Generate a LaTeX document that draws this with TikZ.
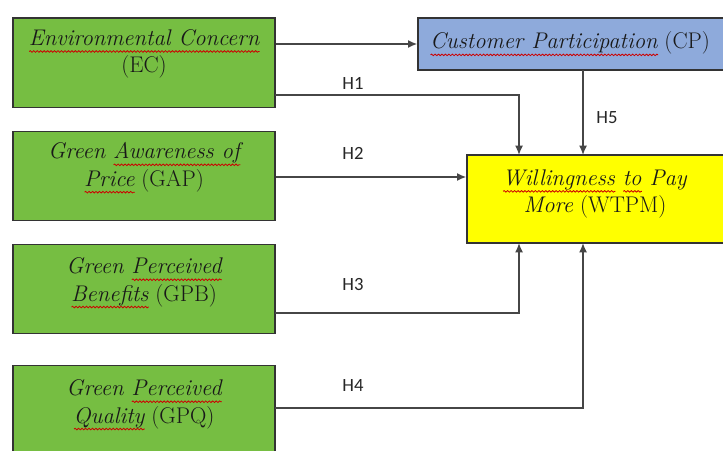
\documentclass[tikz,border=0pt]{standalone}
\usepackage{fontspec}
\newfontfamily\hfont{Carlito}
\usetikzlibrary{arrows.meta,calc,decorations.pathmorphing}
\newsavebox\sqwbox
\newcommand\sqw[1]{\sbox\sqwbox{#1}\leavevmode\rlap{\raisebox{-4.5pt}{\tikz[x=1pt,y=1pt,baseline=0pt]\draw[red!80!black,line width=0.6pt,decorate,decoration={snake,amplitude=0.6pt,segment length=2.6pt}] (0,0) -- (\the\wd\sqwbox,0);}}\usebox\sqwbox}
\definecolor{boxgreen}{RGB}{118,190,66}
\definecolor{boxblue}{RGB}{142,170,219}
\definecolor{boxyellow}{RGB}{255,255,0}
\definecolor{linegray}{RGB}{70,70,70}
\tikzset{
  box/.style={draw=black!80, line width=1pt, inner sep=0pt},
  gbox/.style={box, fill=boxgreen, minimum width=196.5pt, minimum height=67pt},
  btext/.style={align=center, font=\fontsize{17}{20.5}\selectfont, text=black!90, inner sep=0pt},
  conn/.style={draw=linegray, line width=1.2pt, -{Latex[length=7pt,width=6pt]}},
  hlab/.style={font=\hfont\fontsize{14}{16}\selectfont, text=black!85, inner sep=0pt}
}
\begin{document}
\begin{tikzpicture}[x=0.75pt,y=-0.75pt]
\useasboundingbox (0,0) rectangle (723,450);
\clip (0,0) rectangle (723,450);
\fill[white] (0,0) rectangle (723,450);
% boxes
\node[gbox] (ec)  at (144,62.5) {};
\node[gbox] (gap) at (144,176) {};
\node[gbox] (gpb) at (144,289) {};
\node[gbox] (gpq) at (144,410) {};
\node[box, fill=boxblue, minimum width=231pt, minimum height=39pt] (cp) at (572,44) {};
\node[box, fill=boxyellow, minimum width=195pt, minimum height=66pt] (wtpm) at (597,199) {};
% texts
\node[btext] (ect)  at (144,54)  {\textit{\sqw{Environmental Concern}}\\(EC)};
\node[btext] (gapt) at (144,168) {\textit{Green \sqw{Awareness of}}\\\textit{\sqw{Price}} (GAP)};
\node[btext] (gpbt) at (144,283) {\textit{Green \sqw{Perceived}}\\\textit{\sqw{Benefits}} (GPB)};
\node[btext] (gpqt) at (144,405) {\textit{Green \sqw{Perceived}}\\\textit{\sqw{Quality}} (GPQ)};
\node[btext] (cpt)  at (570,44)  {\textit{\sqw{Customer Participation}} (CP)};
\node[btext] (wtpmt) at (595,194) {\textit{\sqw{Willingness} \sqw{to} Pay}\\\textit{More} (WTPM)};
% helper coordinates
\coordinate (h1a) at (275,95);
\coordinate (h1b) at (519,155);
\coordinate (h5a) at (583,70);
\coordinate (h5b) at (583,155);
\coordinate (h3a) at (275,313);
\coordinate (h3b) at (519,243);
\coordinate (h4a) at (275,408);
\coordinate (h4b) at (583,243);
% connectors
\draw[conn] (ec.east |- cp.west) -- (cp.west);
\draw[conn] (h1a) -| (h1b);
\draw[conn] (h5a) -- (h5b);
\draw[conn] (gap.east |- 0,177) -- (wtpm.west |- 0,177);
\draw[conn] (h3a) -| (h3b);
\draw[conn] (h4a) -| (h4b);
% labels
\node[hlab] (l1) at (353,83)  {H1};
\node[hlab] (l2) at (353,153) {H2};
\node[hlab] (l3) at (353,284) {H3};
\node[hlab] (l4) at (353,385) {H4};
\node[hlab] (l5) at (607,118) {H5};
\end{tikzpicture}
\end{document}
